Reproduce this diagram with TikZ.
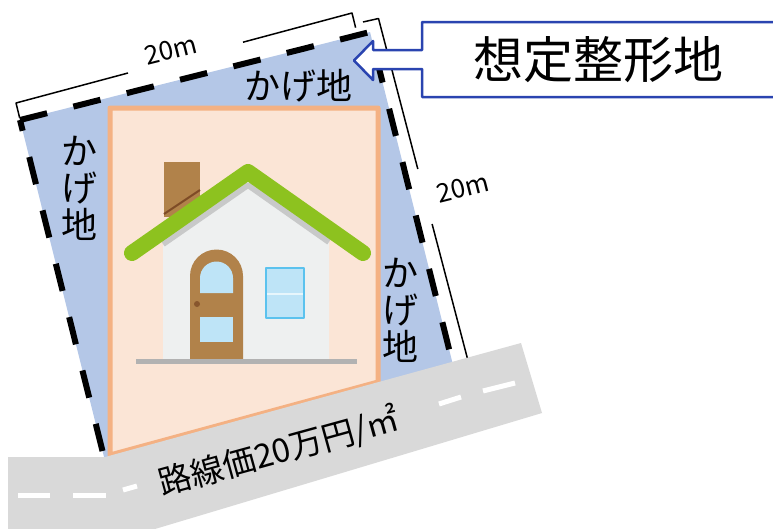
\documentclass[tikz,border=0pt]{standalone}
\usepackage{fontspec}
\setmainfont{Noto Sans CJK JP}
\usepackage{tikz}
\usetikzlibrary{positioning}

\definecolor{kagefill}{HTML}{B4C7E7}
\definecolor{lotfill}{HTML}{FBE5D6}
\definecolor{lotline}{HTML}{F4B183}
\definecolor{roadgray}{HTML}{D9D9D9}
\definecolor{callblue}{HTML}{2A44B0}
\definecolor{roofgreen}{HTML}{8DC21F}
\definecolor{brickbrown}{HTML}{B1824A}
\definecolor{darkbrown}{HTML}{7E4B26}
\definecolor{wallgray}{HTML}{EEF0F0}
\definecolor{shadegray}{HTML}{C8C9C9}
\definecolor{glassblue}{HTML}{BEE4F7}
\definecolor{frameblue}{HTML}{5BC2EE}

\begin{document}
\begin{tikzpicture}[
            x = 1pt, y = -1pt, % one unit per pixel, y runs down
            line join = round,
            semithick
        ]

        \tikzstyle{kage}=[
            font = \fontsize{36}{37}\selectfont,
            align = center,
            inner sep = 0pt
        ]
        \tikzstyle{dimlabel}=[font = \fontsize{26}{26}\selectfont, inner sep = 0pt, rotate = 14]
        \tikzstyle{dimline}=[line width = 1.5pt, black]

        \useasboundingbox (0,0) rectangle (773,528);
        \clip (0,0) rectangle (773,528);

	% assumed square lot
        \coordinate (TL) at (20,120);
        \coordinate (TR) at (370,32);
        \coordinate (BR) at (457,381);
        \coordinate (BL) at (107,469);
        \fill[kagefill] (TL) -- (TR) -- (BR) -- (BL) -- cycle;
        \draw[line width = 6pt, dash pattern = on 28pt off 27pt] (TL) -- (TR) -- (BR) -- (BL) -- cycle;

	% dimension brackets
        \draw[dimline] (19.6,117.6) -- (16,103) -- (128,73);
        \draw[dimline] (243,42.2) -- (352,13) -- (355.6,27.6);
        \draw[dimline] (363,22) -- (378.5,18.5) -- (417.8,169);
        \draw[dimline] (432.1,224) -- (471,372) -- (455.5,375.8);
        \node[dimlabel] (lenTop) at (171,50) {20m};
        \node[dimlabel] (lenRight) at (463,188) {20m};

	% actual lot
        \draw[line width = 5pt, lotline, fill = lotfill] (110,108) -- (378,108) -- (378,382) -- (110,455) -- cycle;

	% house
        \fill[brickbrown] (164,162) rectangle (200,217);
        \draw[darkbrown, line width = 2pt] (164,214) -- (200,190);
        \fill[wallgray] (163,359) -- (163,235) -- (248,176) -- (329,235) -- (329,359) -- cycle;
        \draw[shadegray, line width = 6pt, line cap = butt] (163,244) -- (248,185) -- (329,242);
        \draw[roofgreen, line width = 16pt, line cap = round] (132,253) -- (248,172) -- (363,253);
        \fill[brickbrown] (190,359) -- (190,276) arc (180:360:26.5) -- (243,359) -- cycle;
        \fill[glassblue] (200,293) -- (200,278) arc (180:360:16.5) -- (233,293) -- cycle;
        \fill[glassblue] (200,317) rectangle (233,342);
        \fill[darkbrown!80!brickbrown] (197,304) circle (3);
        \draw[frameblue, line width = 2pt, fill = glassblue] (266,268) rectangle (304,318);
        \draw[white!85!frameblue, line width = 2pt] (267,294) -- (303,294);
        \draw[black!30, line width = 5pt] (136,361) -- (357,361);

	% shaded strips
        \node[kage] (kageTop) at (298,86) {かげ地};
        \node[kage] (kageLeft) at (79,188) {か\\げ\\地};
        \node[kage] (kageRight) at (400,310) {か\\げ\\地};

	% road
        \fill[roadgray] (8,457) -- (105,457) -- (521,343) -- (542,413) -- (135,535) -- (8,535) -- cycle;
        \draw[white, line width = 5pt] (18,495) -- (50,495);
        \draw[white, line width = 5pt] (73,495) -- (106,495);
        \draw[white, line width = 5pt] (123,490) -- (137,486);
        \draw[white, line width = 5pt] (439,404) -- (461,397);
        \draw[white, line width = 5pt] (483,391) -- (515,383);
        \node[font = \fontsize{33}{33}\selectfont, inner sep = 0pt, rotate = 15.4] (rosenka) at (279,452) {路線価20万円/㎡};

	% callout
        \draw[callblue, line width = 2.5pt, fill = white] (790,22) -- (422,22) -- (422,50) -- (373,50) -- (373,41) -- (354,60.5)
            -- (373,80) -- (373,69) -- (422,69) -- (422,97) -- (790,97);
        \node[font = \fontsize{50}{50}\selectfont, inner sep = 0pt] (title) at (598,60) {想定整形地};

  \end{tikzpicture}
\end{document}
